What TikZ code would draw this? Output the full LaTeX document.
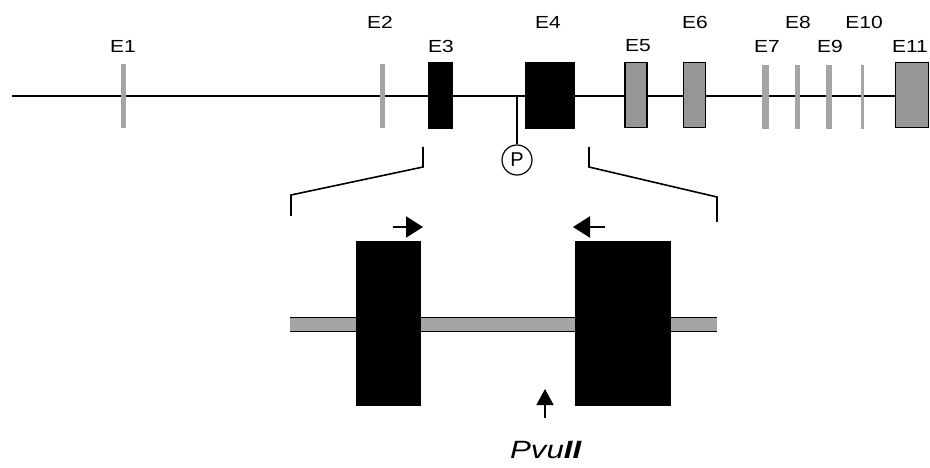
\documentclass[tikz,border=0pt]{standalone}
\usepackage{fontspec}
\setmainfont{Liberation Sans}
\usetikzlibrary{arrows.meta}
\definecolor{exgray}{RGB}{150,150,150}
\definecolor{thingray}{RGB}{165,165,165}
\definecolor{bandgray}{RGB}{165,165,165}
\newcommand{\wide}[1]{\scalebox{1.2}[1]{#1}}
\tikzset{
  exonbox/.style={draw=black, line width=1.2pt, fill=exgray, inner sep=0pt},
  blackbox/.style={draw=black, fill=black, inner sep=0pt},
  thinexon/.style={fill=thingray, inner sep=0pt, minimum height=64pt},
  lab/.style={font=\fontsize{17.5pt}{17.5pt}\selectfont, inner sep=0pt},
  ln/.style={line width=1.6pt},
  primer/.style={line width=2.2pt, -{Triangle[length=17pt,width=21pt]}},
}
\begin{document}
\begin{tikzpicture}[x=1pt,y=-1pt]
\useasboundingbox (0,0) rectangle (930,468);
% main line
\coordinate (start) at (12,96);
\coordinate (endl) at (896,96);
\draw[ln] (start) -- (endl);
% exons
\node[thinexon, minimum width=5pt] (e1) at (123.5,96) {};
\node[thinexon, minimum width=5pt] (e2) at (382.5,96) {};
\node[blackbox, minimum width=24pt, minimum height=66pt] (e3) at (440,95) {};
\node[blackbox, minimum width=49pt, minimum height=66pt] (e4) at (549.5,95) {};
\node[exonbox, minimum width=22pt, minimum height=65pt] (e5) at (636,95) {};
\node[exonbox, minimum width=22pt, minimum height=65pt] (e6) at (694.5,95) {};
\node[thinexon, minimum width=7pt] (e7) at (765.5,97) {};
\node[thinexon, minimum width=5pt] (e8) at (797.5,97) {};
\node[thinexon, minimum width=6pt] (e9) at (829,97) {};
\node[thinexon, minimum width=3pt] (e10) at (862.5,97) {};
\node[exonbox, minimum width=33pt, minimum height=65pt] (e11) at (912,95) {};
% labels
\node[lab] (l1) at (123,46) {\wide{E1}};
\node[lab] (l2) at (380,22) {\wide{E2}};
\node[lab] (l3) at (441,46) {\wide{E3}};
\node[lab] (l4) at (548,22) {\wide{E4}};
\node[lab] (l5) at (638,46) {\wide{E5}};
\node[lab] (l6) at (695,22) {\wide{E6}};
\node[lab] (l7) at (767,46) {\wide{E7}};
\node[lab] (l8) at (798,22) {\wide{E8}};
\node[lab] (l9) at (830,46) {\wide{E9}};
\node[lab] (l10) at (864,22) {\wide{E10}};
\node[lab] (l11) at (910,46) {\wide{E11}};
% promoter
\coordinate (pt) at (517,96);
\node[draw, circle, line width=1.2pt, minimum size=30pt, inner sep=0pt, font=\fontsize{20pt}{20pt}\selectfont] (p) at (517,160) {P};
\draw[line width=1.2pt] (pt) -- (p.north);
% zoom brackets
\coordinate (la) at (423,147);
\coordinate (lb) at (423,167);
\coordinate (lc) at (291,195);
\coordinate (ld) at (291,216);
\draw[ln] (la) -- (lb) -- (lc) -- (ld);
\coordinate (ra) at (589,147);
\coordinate (rb) at (589,167);
\coordinate (rc) at (717,197);
\coordinate (rd) at (717,222);
\draw[ln] (ra) -- (rb) -- (rc) -- (rd);
% lower band
\node[fill=bandgray, inner sep=0pt, minimum width=427pt, minimum height=14pt] (band) at (503.5,324.5) {};
\draw[line width=1.4pt] (band.north west) -- (band.north east);
\draw[line width=1.4pt] (band.south west) -- (band.south east);
\node[blackbox, minimum width=64pt, minimum height=164pt] (b1) at (388,323) {};
\node[blackbox, minimum width=95pt, minimum height=164pt] (b2) at (622.5,323) {};
% primers
\coordinate (p1s) at (393,227);
\coordinate (p1e) at (423,227);
\draw[primer] (p1s) -- (p1e);
\coordinate (p2s) at (605,227);
\coordinate (p2e) at (573,227);
\draw[primer] (p2s) -- (p2e);
% PvuII site
\coordinate (pvs) at (545,418);
\coordinate (pve) at (545,389);
\draw[line width=1.6pt, -{Triangle[length=16pt,width=17pt]}] (pvs) -- (pve);
\node[font=\fontsize{25pt}{25pt}\selectfont, inner sep=0pt] (pvu) at (546,450) {\scalebox{1.25}[1]{\textit{Pvu}\textbf{\textit{II}}}};
\end{tikzpicture}
\end{document}
